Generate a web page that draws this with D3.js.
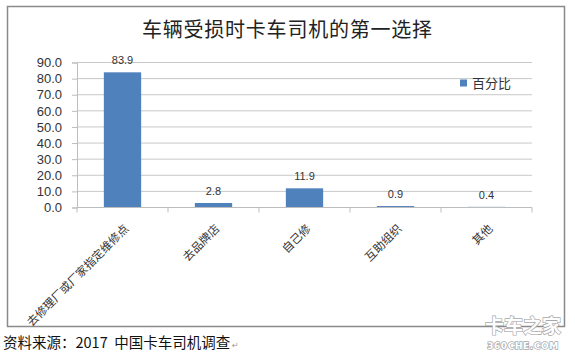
<!DOCTYPE html>
<html><head><meta charset="utf-8">
<script src="https://cdn.jsdelivr.net/npm/d3@7"></script>
<style>
html,body{margin:0;padding:0;background:#fff;}
svg{display:block;}
text{white-space:pre;}
</style></head>
<body>
<svg id="c" width="575" height="356"></svg>
<script>
const title = "车辆受损时卡车司机的第一选择";
const categories = ["去修理厂或厂家指定维修点","去品牌店","自己修","互助组织","其他"];
const values = [83.9, 2.8, 11.9, 0.9, 0.4];
const yTicks = [0,10,20,30,40,50,60,70,80,90];
const seriesName = "百分比";
const source = "资料来源：2017  中国卡车司机调查";

const svg = d3.select("#c");
const plotL = 77, plotR = 532, plotT = 62.5, plotB = 207.5;

// frame
svg.append("rect").attr("x",7.5).attr("y",6.5).attr("width",557).attr("height",320)
  .attr("fill","#fff").attr("stroke","#8a8a8a").attr("stroke-width",1.5);

// title
svg.append("text").attr("x",142).attr("y",37).attr("text-anchor","start")
  .attr("font-family","'Noto Sans CJK SC'").attr("font-size",20)
  .attr("textLength",290).attr("lengthAdjust","spacing")
  .attr("fill","#222").text(title);

const x = d3.scaleBand().domain(categories).range([plotL,plotR]).paddingInner(0.59).paddingOuter(0.295);
const xb = d3.scaleBand().domain(categories).range([plotL,plotR]);
const y = d3.scaleLinear().domain([0,90]).range([plotB,plotT]);

// gridlines
svg.append("g").selectAll("line").data(yTicks.filter(d=>d>0)).join("line")
  .attr("x1",plotL).attr("x2",plotR).attr("y1",d=>y(d)).attr("y2",d=>y(d))
  .attr("stroke","#c8c8c8").attr("stroke-width",1);

// y axis
const ya = svg.append("g").attr("transform",`translate(${plotL},0)`)
  .call(d3.axisLeft(y).tickValues(yTicks).tickFormat(d3.format(".1f")).tickSize(5).tickPadding(10));
ya.select(".domain").attr("stroke","#bdbdbd");
ya.selectAll(".tick line").attr("stroke","#bdbdbd");
ya.selectAll("text").attr("font-family","'Liberation Sans',Arial").attr("font-size",13).attr("fill","#333");

// bars
svg.append("g").selectAll("rect").data(values).join("rect")
  .attr("x",(d,i)=>x(categories[i])).attr("width",x.bandwidth())
  .attr("y",d=>y(d)).attr("height",d=>y(0)-y(d)).attr("fill","#4f81bd");

// value labels
svg.append("g").selectAll("text").data(values).join("text")
  .attr("x",(d,i)=>x(categories[i])+x.bandwidth()/2).attr("y",d=>y(d)-8)
  .attr("text-anchor","middle").attr("font-family","'Liberation Sans',Arial").attr("font-size",11)
  .attr("fill","#333").text(d=>d3.format(".1f")(d));

// x axis
const xa = svg.append("g").attr("transform",`translate(0,${plotB})`);
xa.append("line").attr("x1",plotL).attr("x2",plotR).attr("stroke","#bdbdbd");
const bounds = categories.map(c=>xb(c)).concat([plotR]);
xa.selectAll("line.tk").data(bounds).join("line").attr("class","tk")
  .attr("x1",d=>d).attr("x2",d=>d).attr("y1",0).attr("y2",5).attr("stroke","#bdbdbd");
xa.selectAll("text").data(categories).join("text")
  .attr("transform",d=>`translate(${xb(d)+xb.bandwidth()/2+4},19) rotate(-45)`)
  .attr("text-anchor","end").attr("dy","0.35em")
  .attr("font-family","'Noto Sans CJK SC'").attr("font-size",11.5).attr("fill","#333")
  .text(d=>d);

// legend
svg.append("rect").attr("x",460).attr("y",79.5).attr("width",7).attr("height",7).attr("fill","#4f81bd");
svg.append("text").attr("x",472).attr("y",88).attr("font-family","'Noto Sans CJK SC'").attr("font-size",13)
  .attr("fill","#333").text(seriesName);

// footer
svg.append("text").attr("x",3).attr("y",348).attr("font-family","'Noto Sans CJK SC'").attr("font-size",14.5)
  .attr("fill","#111").text(source);
svg.append("text").attr("x",232).attr("y",348).attr("font-family","'DejaVu Sans'").attr("font-size",8)
  .attr("fill","#999").text("↵");

// watermark
svg.append("text").attr("x",523).attr("y",333).attr("text-anchor","middle")
  .attr("font-family","'Noto Sans CJK SC'").attr("font-weight","bold").attr("font-size",19)
  .attr("fill","#fff").attr("stroke","#a8a8a8").attr("stroke-width",1.4).attr("paint-order","stroke").text("卡车之家");
svg.append("text").attr("x",523).attr("y",349).attr("text-anchor","middle")
  .attr("font-family","'DejaVu Sans'").attr("font-weight","bold").attr("font-size",9).attr("letter-spacing",0.6)
  .attr("fill","#fff").attr("stroke","#a8a8a8").attr("stroke-width",1.4).attr("paint-order","stroke").text("360CHE.COM");
</script>
</body></html>
